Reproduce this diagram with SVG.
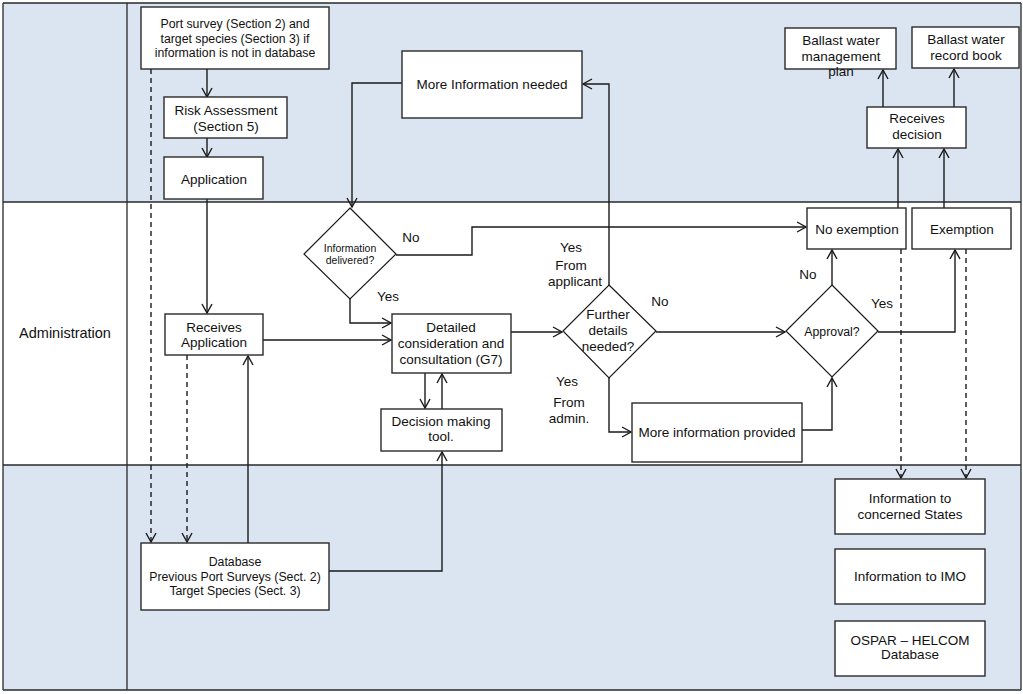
<svg xmlns="http://www.w3.org/2000/svg" width="1023" height="694" viewBox="0 0 1023 694">
<defs>
<marker id="arr" markerUnits="userSpaceOnUse" markerWidth="12" markerHeight="14" refX="10" refY="6" orient="auto">
<path d="M1,1 L10,6 L1,11" fill="none" stroke="#1a1a1a" stroke-width="1.4"/>
</marker>
<style>
.lane{fill:#dbe5f1;stroke:none}
.frame{stroke:#2a2a2a;stroke-width:1.3;fill:none}
.box{fill:#fff;stroke:#2a2a2a;stroke-width:1.4}
.dia{fill:#fff;stroke:#1a1a1a;stroke-width:1.2}
.t{font-family:"Liberation Sans",Arial,sans-serif;font-size:13.5px;fill:#111;text-anchor:middle}
.s{font-size:12.3px}
.xs{font-size:10.5px}
.c{fill:none;stroke:#1a1a1a;stroke-width:1.4;marker-end:url(#arr)}
.d{fill:none;stroke:#1a1a1a;stroke-width:1.4;stroke-dasharray:5,4;marker-end:url(#arr)}
.p{fill:none;stroke:#1a1a1a;stroke-width:1.4}
</style>
</defs>
<g id="lanes">
<rect class="lane" x="3" y="3" width="1018" height="199"/>
<rect x="3" y="202" width="1018" height="263" fill="#fff"/>
<rect class="lane" x="3" y="465" width="1018" height="225"/>
<path class="frame" d="M3,3 H1021 M3,202 H1021 M3,465 H1021 M3,690 H1021 M3,3 V690 M127,3 V690 M1021,3 V690"/>
<text class="t" x="65" y="338" style="font-size:14.5px">Administration</text>
</g>
<g id="connectors">
<path class="c" d="M207,69 V97"/>
<path class="c" d="M207,138 V157"/>
<path class="c" d="M207,199 V313"/>
<path class="d" d="M151,69 V542"/>
<path class="d" d="M187,355 V542"/>
<path class="c" d="M248,543 V356"/>
<path class="c" d="M329,571 H442 V452"/>
<path class="c" d="M263,340 H391"/>
<path class="c" d="M425,373 V408"/>
<path class="c" d="M442,409 V374"/>
<path class="c" d="M402,83 H352 V207"/>
<path class="c" d="M350,299 V323 H391"/>
<path class="c" d="M396,255 H472 V227 H806"/>
<path class="c" d="M511,332 H562"/>
<path class="c" d="M609,285 V84 H583"/>
<path class="c" d="M656,332 H785"/>
<path class="c" d="M609,378 V432 H631"/>
<path class="c" d="M802,430 H832 V378"/>
<path class="c" d="M832,285 V250"/>
<path class="c" d="M878,332 H955 V250"/>
<path class="c" d="M898,208 V149"/>
<path class="c" d="M944,208 V149"/>
<path class="c" d="M883,107 V70"/>
<path class="c" d="M954,107 V69"/>
<path class="d" d="M901,249 V478"/>
<path class="d" d="M966,249 V478"/>
</g>
<g id="labels">
<text class="t" x="411" y="242">No</text>
<text class="t" x="388" y="301">Yes</text>
<text class="t" x="571" y="252">Yes</text>
<text class="t" x="571" y="270">From</text>
<text class="t" x="575" y="286">applicant</text>
<text class="t" x="660" y="306">No</text>
<text class="t" x="567" y="386">Yes</text>
<text class="t" x="569" y="407">From</text>
<text class="t" x="569" y="423">admin.</text>
<text class="t" x="808" y="279">No</text>
<text class="t" x="882" y="308">Yes</text>
</g>
<g id="port-survey">
<rect class="box" x="141" y="7" width="188" height="62"/>
<text class="t s" x="235" y="28">Port survey (Section 2) and</text>
<text class="t s" x="235" y="43">target species (Section 3) if</text>
<text class="t s" x="235" y="57">information is not in database</text>
</g>
<g id="risk-assessment">
<rect class="box" x="164" y="97" width="123" height="41"/>
<text class="t" x="226" y="115">Risk Assessment</text>
<text class="t" x="226" y="131">(Section 5)</text>
</g>
<g id="application">
<rect class="box" x="164" y="157" width="99" height="42"/>
<text class="t" x="214" y="184">Application</text>
</g>
<g id="more-info-needed">
<rect class="box" x="402" y="51" width="180" height="67"/>
<text class="t" x="492" y="89">More Information needed</text>
</g>
<g id="bwmp">
<rect class="box" x="785" y="28" width="111" height="41"/>
<text class="t" x="841" y="45">Ballast water</text>
<text class="t" x="841" y="61">management</text>
<text class="t" x="841" y="76">plan</text>
</g>
<g id="record-book">
<rect class="box" x="912" y="27" width="107" height="41"/>
<text class="t" x="966" y="44">Ballast water</text>
<text class="t" x="966" y="60">record book</text>
</g>
<g id="receives-decision">
<rect class="box" x="867" y="107" width="99" height="41"/>
<text class="t" x="917" y="123">Receives</text>
<text class="t" x="917" y="139">decision</text>
</g>
<g id="info-delivered">
<polygon class="dia" points="350,208 396,254 350,299 304,254"/>
<text class="t xs" x="350" y="252">Information</text>
<text class="t xs" x="350" y="264">delivered?</text>
</g>
<g id="receives-application">
<rect class="box" x="165" y="314" width="98" height="41"/>
<text class="t" x="214" y="332">Receives</text>
<text class="t" x="214" y="347">Application</text>
</g>
<g id="detailed">
<rect class="box" x="392" y="314" width="119" height="59"/>
<text class="t" x="451" y="332">Detailed</text>
<text class="t" x="451" y="348">consideration and</text>
<text class="t" x="451" y="364">consultation (G7)</text>
</g>
<g id="decision-tool">
<rect class="box" x="381" y="409" width="121" height="42"/>
<text class="t" x="441" y="426">Decision making</text>
<text class="t" x="441" y="441">tool.</text>
</g>
<g id="further-details">
<polygon class="dia" points="609,285 656,331 609,378 563,331"/>
<text class="t" x="608" y="319">Further</text>
<text class="t" x="608" y="335">details</text>
<text class="t" x="608" y="351">needed?</text>
</g>
<g id="approval">
<polygon class="dia" points="832,285 878,331 832,377 786,331"/>
<text class="t s" x="832" y="336">Approval?</text>
</g>
<g id="no-exemption">
<rect class="box" x="807" y="208" width="99" height="41"/>
<text class="t" x="857" y="234">No exemption</text>
</g>
<g id="exemption">
<rect class="box" x="912" y="208" width="99" height="41"/>
<text class="t" x="962" y="234">Exemption</text>
</g>
<g id="more-info-provided">
<rect class="box" x="632" y="403" width="170" height="59"/>
<text class="t" x="717" y="437">More information provided</text>
</g>
<g id="database">
<rect class="box" x="141" y="543" width="188" height="67"/>
<text class="t s" x="235" y="566">Database</text>
<text class="t s" x="235" y="581">Previous Port Surveys (Sect. 2)</text>
<text class="t s" x="235" y="595">Target Species (Sect. 3)</text>
</g>
<g id="info-states">
<rect class="box" x="835" y="479" width="150" height="55"/>
<text class="t" x="910" y="503">Information to</text>
<text class="t" x="910" y="519">concerned States</text>
</g>
<g id="info-imo">
<rect class="box" x="835" y="549" width="150" height="55"/>
<text class="t" x="910" y="581">Information to IMO</text>
</g>
<g id="ospar">
<rect class="box" x="835" y="621" width="150" height="55"/>
<text class="t" x="910" y="645">OSPAR – HELCOM</text>
<text class="t" x="910" y="659">Database</text>
</g>
</svg>
